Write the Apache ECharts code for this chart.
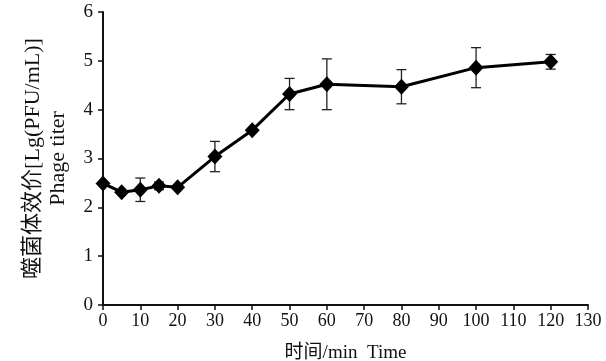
<!DOCTYPE html>
<html>
<head>
<meta charset="utf-8">
<script src="https://cdn.jsdelivr.net/npm/echarts@6/dist/echarts.min.js"></script>
<style>
  html, body { margin: 0; padding: 0; background: #fff; }
  #chart { width: 606px; height: 361px; }
</style>
</head>
<body>
<div id="chart"></div>
<script>
// sampling time (min)
var times = [0, 5, 10, 15, 20, 30, 40, 50, 60, 80, 100, 120];
// phage titer, Lg(PFU/mL)
var titer = [2.49, 2.31, 2.36, 2.44, 2.41, 3.04, 3.58, 4.32, 4.52, 4.47, 4.86, 4.98];
// error bar half-length
var errs = [0, 0, 0.24, 0.08, 0, 0.31, 0, 0.32, 0.52, 0.35, 0.41, 0.15];

var xTicks = [0, 130, 10];
var yTicks = [0, 6, 1];

var chart = echarts.init(document.getElementById('chart'));

var serif = '"Liberation Serif", "Noto Sans CJK SC", serif';

var lineData = times.map(function (t, i) { return [t, titer[i]]; });
var errData = times.map(function (t, i) { return [t, titer[i] - errs[i], titer[i] + errs[i]]; });

var option = {
    animation: false,
    backgroundColor: '#fff',
    grid: {
        left: 103,
        right: 18,
        top: 12,
        bottom: 56,
        containLabel: false,
        outerBoundsMode: 'none'
    },
    xAxis: {
        type: 'value',
        min: xTicks[0],
        max: xTicks[1],
        interval: xTicks[2],
        name: '时间/min  Time',
        nameLocation: 'middle',
        nameGap: 39,
        nameTextStyle: { color: '#111', fontSize: 19, fontFamily: serif },
        axisLine: { lineStyle: { color: '#111', width: 2 } },
        axisTick: { show: true, length: 5, lineStyle: { color: '#111', width: 1.5 } },
        axisLabel: { color: '#111', fontSize: 18, fontFamily: serif, margin: 7 },
        splitLine: { show: false }
    },
    yAxis: {
        type: 'value',
        min: yTicks[0],
        max: yTicks[1],
        interval: yTicks[2],
        name: '噬菌体效价[Lg(PFU/mL)]\nPhage titer',
        nameLocation: 'middle',
        nameGap: 32,
        nameTextStyle: { color: '#111', fontSize: 22, fontFamily: serif, lineHeight: 25 },
        axisLine: { lineStyle: { color: '#111', width: 2 } },
        axisTick: { show: true, length: 5, lineStyle: { color: '#111', width: 1.5 } },
        axisLabel: { color: '#111', fontSize: 19, fontFamily: serif, margin: 10 },
        splitLine: { show: false }
    },
    series: [
        {
            name: 'error',
            type: 'custom',
            z: 1,
            data: errData,
            renderItem: function (params, api) {
                var lo = api.coord([api.value(0), api.value(1)]);
                var hi = api.coord([api.value(0), api.value(2)]);
                var w = 5;
                var st = { stroke: '#222', lineWidth: 1.3 };
                return {
                    type: 'group',
                    children: [
                        { type: 'line', shape: { x1: lo[0], y1: lo[1], x2: hi[0], y2: hi[1] }, style: st },
                        { type: 'line', shape: { x1: lo[0] - w, y1: lo[1], x2: lo[0] + w, y2: lo[1] }, style: st },
                        { type: 'line', shape: { x1: hi[0] - w, y1: hi[1], x2: hi[0] + w, y2: hi[1] }, style: st }
                    ]
                };
            }
        },
        {
            name: 'titer',
            type: 'line',
            z: 3,
            data: lineData,
            symbol: 'diamond',
            symbolSize: [15, 16],
            showAllSymbol: true,
            lineStyle: { color: '#000', width: 3 },
            itemStyle: { color: '#000' }
        }
    ]
};

chart.setOption(option);
</script>
</body>
</html>
